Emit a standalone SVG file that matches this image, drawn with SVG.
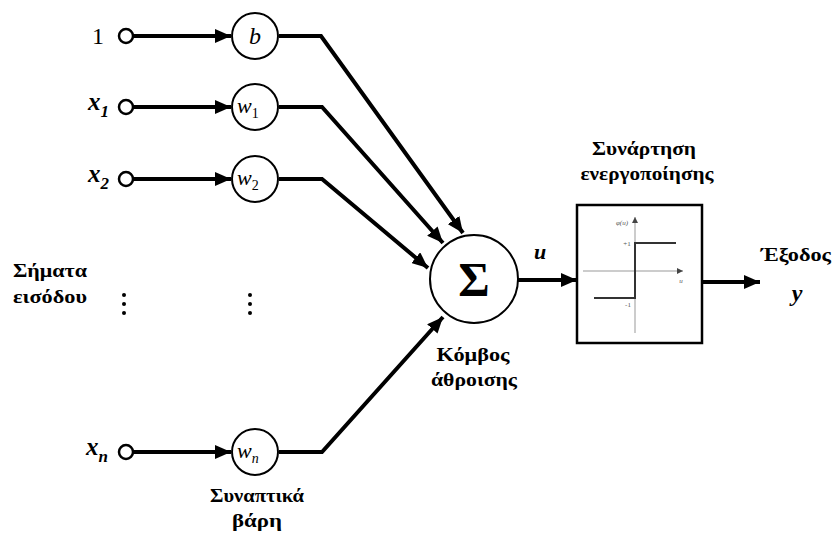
<svg xmlns="http://www.w3.org/2000/svg" width="836" height="538" viewBox="0 0 836 538">
<defs>
<marker id="ah" markerUnits="userSpaceOnUse" markerWidth="18" markerHeight="14" refX="16" refY="7" orient="auto">
<path d="M0,0 L16,7 L0,14 Z" fill="#000"/>
</marker>
<marker id="sah" markerUnits="userSpaceOnUse" markerWidth="8" markerHeight="8" refX="6" refY="3" orient="auto">
<path d="M0,0 L6,3 L0,6 Z" fill="#444"/>
</marker>
<style>
.ln{fill:none;stroke:#000;stroke-width:4;}
.in{fill:#fff;stroke:#000;stroke-width:2.5;}
.wc{fill:#fff;stroke:#000;stroke-width:2;}
.lbl{font-family:"Liberation Serif","DejaVu Serif",serif;}
.gr{font-family:"Liberation Serif","DejaVu Serif",serif;font-weight:bold;font-size:19px;text-anchor:middle;fill:#000;}
.it{font-style:italic;}
.xl{font-style:italic;font-weight:bold;font-size:25px;fill:#000;}
.sm{font-size:7px;fill:#555;text-anchor:middle;}
.dot{fill:#000;}
</style>
</defs>
<rect width="836" height="538" fill="#fff"/>

<g id="connectors">
<line class="ln" x1="133" y1="36" x2="231" y2="36" marker-end="url(#ah)"/>
<line class="ln" x1="133" y1="107" x2="231" y2="107" marker-end="url(#ah)"/>
<line class="ln" x1="133" y1="179" x2="231" y2="179" marker-end="url(#ah)"/>
<line class="ln" x1="133" y1="452" x2="231" y2="452" marker-end="url(#ah)"/>
<polyline class="ln" points="279,36 321,36 463,233" marker-end="url(#ah)"/>
<polyline class="ln" points="279,107 322,107 443,243" marker-end="url(#ah)"/>
<polyline class="ln" points="279,179 322,179 428,268" marker-end="url(#ah)"/>
<polyline class="ln" points="279,452 322,452 443,317" marker-end="url(#ah)"/>
<line class="ln" x1="518" y1="280" x2="577" y2="280" marker-end="url(#ah)"/>
<line class="ln" x1="702" y1="282" x2="760" y2="282" marker-end="url(#ah)"/>
</g>

<g id="input-1">
<text class="lbl" x="98" y="44" font-size="24" text-anchor="middle" fill="#000">1</text>
<circle class="in" cx="126" cy="36" r="7"/>
</g>
<g id="input-x1">
<text class="lbl xl" x="88" y="110">x<tspan font-size="17" dy="7">1</tspan></text>
<circle class="in" cx="126" cy="107" r="7"/>
</g>
<g id="input-x2">
<text class="lbl xl" x="88" y="182">x<tspan font-size="17" dy="7">2</tspan></text>
<circle class="in" cx="126" cy="179" r="7"/>
</g>
<g id="input-xn">
<text class="lbl xl" x="86" y="455">x<tspan font-size="17" dy="7">n</tspan></text>
<circle class="in" cx="126" cy="452" r="7"/>
</g>

<g id="weight-b">
<circle class="wc" cx="255" cy="36" r="23"/>
<text class="lbl it" x="255" y="44" font-size="24" text-anchor="middle" fill="#000">b</text>
</g>
<g id="weight-w1">
<circle class="wc" cx="255" cy="107" r="23"/>
<text class="lbl it" x="237" y="113" font-size="22" fill="#000">w<tspan font-size="14" font-style="normal" dy="5">1</tspan></text>
</g>
<g id="weight-w2">
<circle class="wc" cx="255" cy="179" r="23"/>
<text class="lbl it" x="237" y="185" font-size="22" fill="#000">w<tspan font-size="14" font-style="normal" dy="5">2</tspan></text>
</g>
<g id="weight-wn">
<circle class="wc" cx="255" cy="452" r="23"/>
<text class="lbl it" x="237" y="458" font-size="22" fill="#000">w<tspan font-size="14" dy="5">n</tspan></text>
</g>

<g id="dots">
<circle class="dot" cx="124" cy="295" r="2"/>
<circle class="dot" cx="124" cy="304" r="2"/>
<circle class="dot" cx="124" cy="313" r="2"/>
<circle class="dot" cx="250" cy="295" r="2"/>
<circle class="dot" cx="250" cy="304" r="2"/>
<circle class="dot" cx="250" cy="313" r="2"/>
</g>

<g id="label-inputs">
<text class="gr" x="50" y="277" textLength="74" lengthAdjust="spacingAndGlyphs">Σήματα</text>
<text class="gr" x="50" y="303" textLength="74" lengthAdjust="spacingAndGlyphs">εισόδου</text>
</g>
<g id="label-weights">
<text class="gr" x="257" y="502" textLength="94" lengthAdjust="spacingAndGlyphs">Συναπτικά</text>
<text class="gr" x="257" y="527" textLength="50" lengthAdjust="spacingAndGlyphs">βάρη</text>
</g>

<g id="sum-node">
<circle class="wc" cx="474" cy="279" r="44"/>
<text class="lbl" x="474" y="296" font-size="48" font-weight="bold" text-anchor="middle" fill="#000">Σ</text>
<text class="gr" x="473" y="361" textLength="73" lengthAdjust="spacingAndGlyphs">Κόμβος</text>
<text class="gr" x="474" y="386" textLength="86" lengthAdjust="spacingAndGlyphs">άθροισης</text>
</g>

<g id="u-label">
<text class="lbl" x="540" y="259" font-size="22" font-weight="bold" font-style="italic" text-anchor="middle" fill="#000">u</text>
</g>

<g id="activation">
<text class="gr" x="644" y="155" textLength="104" lengthAdjust="spacingAndGlyphs">Συνάρτηση</text>
<text class="gr" x="647" y="180" textLength="133" lengthAdjust="spacingAndGlyphs">ενεργοποίησης</text>
<rect x="577" y="205" width="125" height="138" fill="#fff" stroke="#000" stroke-width="2.5"/>
<line x1="635" y1="333" x2="635" y2="217" stroke="#999" stroke-width="1" marker-end="url(#sah)"/>
<line x1="583" y1="271" x2="683" y2="271" stroke="#999" stroke-width="1" marker-end="url(#sah)"/>
<polyline points="594,298 635,298 635,243 676,243" fill="none" stroke="#333" stroke-width="2"/>
<text class="lbl sm it" x="622" y="225">φ(u)</text>
<text class="lbl sm" x="627" y="246">+1</text>
<text class="lbl sm" x="628" y="307">-1</text>
<text class="lbl sm it" x="681" y="283">u</text>
</g>

<g id="output">
<text class="gr" x="796" y="261" textLength="70" lengthAdjust="spacingAndGlyphs">Έξοδος</text>
<text class="lbl" x="797" y="301" font-size="24" font-weight="bold" font-style="italic" text-anchor="middle" fill="#000">y</text>
</g>
</svg>
